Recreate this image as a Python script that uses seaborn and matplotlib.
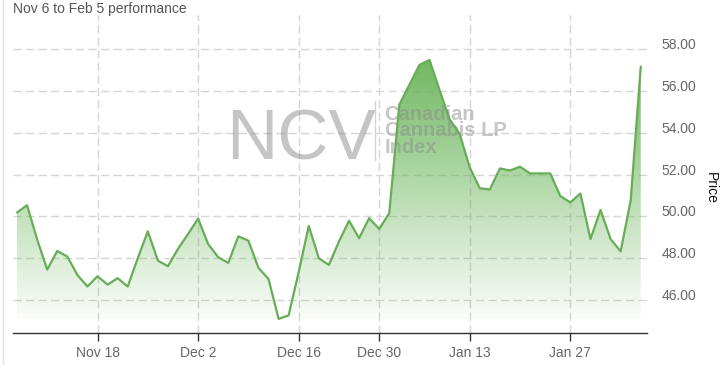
import numpy as np
import pandas as pd
import matplotlib
matplotlib.use("Agg")
import matplotlib.pyplot as plt
from matplotlib.lines import Line2D
from matplotlib.colors import to_rgb
import seaborn as sns

# ---------------- data ----------------
start_date = "2019-11-06"
end_date = "2020-02-05"
market_holidays = ["2019-12-25", "2019-12-26", "2020-01-01"]

prices = [
    50.19, 50.54, 48.90, 47.46, 48.35, 48.08, 47.20, 46.65, 47.14, 46.74,
    47.05, 46.65, 48.00, 49.29, 47.89, 47.62, 48.45, 49.16, 49.90, 48.68,
    48.05, 47.78, 49.05, 48.84, 47.54, 47.01, 45.10, 45.27, 47.35, 49.55,
    48.00, 47.68, 48.80, 49.80, 48.96, 49.92, 49.40, 50.16, 55.35, 56.30,
    57.25, 57.49, 56.05, 54.65, 53.95, 52.35, 51.35, 51.29, 52.30, 52.20,
    52.38, 52.06, 52.06, 52.06, 50.98, 50.67, 51.10, 48.92, 50.31, 48.92,
    48.33, 50.77, 57.17,
]

tick_dates = ["2019-11-18", "2019-12-02", "2019-12-16",
              "2019-12-30", "2020-01-13", "2020-01-27"]
y_ticks = [46, 48, 50, 52, 54, 56, 58]

title_text = "Nov 6 to Feb 5 performance"
y_label = "Price"
watermark_main = "NCV"
watermark_lines = ["Canadian", "Cannabis LP", "Index"]

line_color = "#67ad57"
fill_color = "#6cb65c"

# trading days (ordinal axis: each session equally spaced)
days = pd.bdate_range(start_date, end_date)
days = days[~days.isin(pd.to_datetime(market_holidays))]
df = pd.DataFrame({"date": days, "pos": np.arange(len(days)), "price": prices})

tick_pos = [int(df.loc[df["date"] == pd.Timestamp(d), "pos"].iloc[0]) for d in tick_dates]
tick_lbl = [pd.Timestamp(d).strftime("%b %-d") for d in tick_dates]

# ---------------- figure ----------------
sns.set_theme(style="white")
plt.rcParams["font.family"] = ["Liberation Sans", "DejaVu Sans"]

W, H = 727, 365
fig = plt.figure(figsize=(W / 100, H / 100), dpi=100)
ax_left, ax_right, ax_top, ax_bottom = 12.7, 646.7, 15.0, 332.7
ax = fig.add_axes([ax_left / W, 1 - ax_bottom / H,
                   (ax_right - ax_left) / W, (ax_bottom - ax_top) / H])

# gradient area fill down to series minimum
vmin, vmax = min(prices), max(prices)
poly = ax.fill_between(df["pos"], df["price"], vmin, color="none", lw=0)
n = 256
rgba = np.zeros((n, 1, 4))
rgba[..., :3] = to_rgb(fill_color)
rgba[:, 0, 3] = np.linspace(0.97, 0.03, n)
im = ax.imshow(rgba, extent=[df["pos"].min(), df["pos"].max(), vmin, vmax],
               aspect="auto", origin="upper", zorder=1.5, interpolation="bilinear")
im.set_clip_path(poly.get_paths()[0], transform=ax.transData)

sns.lineplot(data=df, x="pos", y="price", color=line_color, lw=1.6,
             ax=ax, zorder=3)

ax.set_xlim(-0.43, 62.59)
ax.set_ylim(44.44, 59.64)

# grid
ax.set_axisbelow(True)
ax.grid(True, color="#d6d6d6", linestyle=(0, (6, 3)), lw=1)

# spines
for s in ["top", "left", "right"]:
    ax.spines[s].set_visible(False)
ax.spines["bottom"].set_color("#333333")
ax.spines["bottom"].set_linewidth(1)

# x axis
ax.set_xticks(tick_pos)
ax.set_xticklabels(tick_lbl)
ax.tick_params(axis="x", bottom=True, length=5.8, width=1, color="#333333",
               labelcolor="#666666", labelsize=10, pad=3.5, direction="out")
ax.set_xlabel("")

# y axis on the right
ax.yaxis.tick_right()
ax.set_yticks(y_ticks)
ax.set_yticklabels([f"{v:.2f}" for v in y_ticks])
ax.tick_params(axis="y", left=False, right=False, length=0, pad=10.8,
               labelcolor="#666666", labelsize=10)
for t in ax.yaxis.get_major_ticks():
    t.label2.set_va("baseline")

ax.yaxis.set_label_position("right")
ax.set_ylabel(y_label, rotation=270, fontsize=10, color="#111111")
ax.yaxis.label.set_ha("center")
ax.yaxis.label.set_va("center")
ax.yaxis.set_label_coords((711 - ax_left) / (ax_right - ax_left),
                          (ax_bottom - 188) / (ax_bottom - ax_top))

# title
fig.text(12.7 / W, 1 - 13.5 / H, title_text, ha="left", va="baseline",
         fontsize=10, color="#555555")

# left border
fig.add_artist(Line2D([2.5 / W, 2.5 / W], [0, 1], color="#e3e3e3", lw=1))

# watermark
ax.text(226 / W, 1 - 160 / H, watermark_main, transform=fig.transFigure,
        fontsize=51, family=["Liberation Sans Narrow", "Liberation Sans"],
        color="#8c8c8c", alpha=0.5, ha="left", va="baseline", zorder=2.5,
        clip_on=False)
fig.add_artist(Line2D([375 / W, 375 / W], [1 - 101 / H, 1 - 160 / H],
                      color="#d4d4d4", lw=1))
ax.text(384.5 / W, 1 - 153.3 / H, "\n".join(watermark_lines),
        transform=fig.transFigure, fontsize=14.5, fontweight="bold",
        color="#8c8c8c", alpha=0.5, ha="left", va="baseline",
        linespacing=0.86, zorder=2.5, clip_on=False)

fig.savefig("out.png", dpi=100)
